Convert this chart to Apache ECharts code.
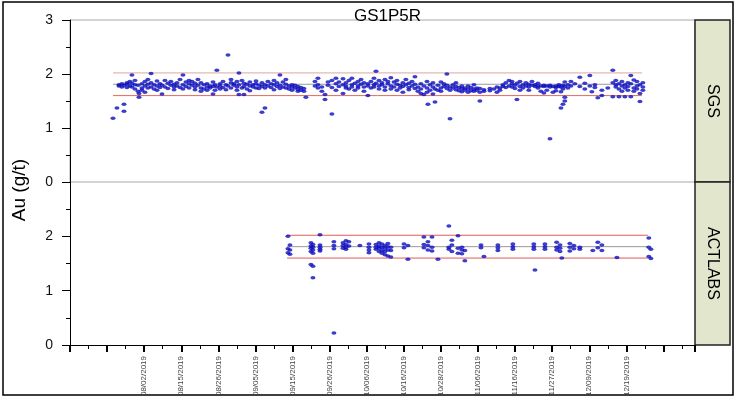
<!DOCTYPE html>
<html>
<head>
<meta charset="utf-8">
<title>GS1P5R</title>
<script src="https://cdn.jsdelivr.net/npm/echarts@6/dist/echarts.min.js"></script>
<style>
  html, body { margin: 0; padding: 0; background: #fff; }
  #chart { width: 738px; height: 399px; }
</style>
</head>
<body>
<div id="chart"></div>
<script>
// x is measured in axis ticks (one per small tick mark), Au in g/t
var dateLabels = ['08/02/2019', '08/15/2019', '08/26/2019', '09/05/2019', '09/15/2019',
  '09/26/2019', '10/06/2019', '10/16/2019', '10/28/2019', '11/06/2019', '11/16/2019',
  '11/27/2019', '12/09/2019', '12/19/2019'];
var firstLabelTick = 4;

// [x, [Au values at that x]]
var sgsCols = [
  [2.32, [1.18]], [2.53, [1.37]], [2.64, [1.78, 1.80]], [2.80, [1.76, 1.82]],
  [2.91, [1.44, 1.31, 1.79]], [3.07, [1.75, 1.81, 1.84]], [3.23, [1.78, 1.86]],
  [3.34, [1.98, 1.83, 1.76]], [3.50, [1.80, 1.72, 1.88]], [3.67, [1.68, 1.79]],
  [3.72, [1.57, 1.64]], [3.88, [1.74, 1.82, 1.70]], [4.04, [1.66, 1.78, 1.86]],
  [4.20, [1.81, 1.74, 1.90]], [4.37, [2.01, 1.76, 1.84]], [4.53, [1.72, 1.80]],
  [4.69, [1.78, 1.87, 1.70]], [4.85, [1.82, 1.75]], [4.96, [1.63, 1.79]],
  [5.12, [1.88, 1.76]], [5.28, [1.83, 1.73]], [5.44, [1.79, 1.86]],
  [5.61, [1.76, 1.81, 1.71]], [5.77, [1.84, 1.78]], [5.93, [1.90, 1.75]],
  [6.09, [1.98, 1.80, 1.72]], [6.25, [1.85, 1.77]], [6.42, [1.82, 1.74, 1.88]],
  [6.58, [1.79, 1.86]], [6.74, [1.83, 1.76, 1.71]], [6.90, [1.90, 1.79]],
  [7.06, [1.74, 1.68, 1.84]], [7.22, [1.80, 1.72]], [7.39, [1.76, 1.70, 1.82]],
  [7.55, [1.74, 1.78]], [7.71, [1.63, 1.77, 1.85]], [7.82, [1.70, 1.80]],
  [7.92, [2.07, 1.76]], [8.09, [1.72, 1.82, 1.78]], [8.25, [1.75, 1.86]],
  [8.41, [1.80, 1.71]], [8.52, [2.35, 1.78]], [8.68, [1.84, 1.74, 1.90]],
  [8.84, [1.79, 1.82]], [9.00, [1.76, 1.86, 1.70]], [9.11, [2.02, 1.62, 1.80]],
  [9.27, [1.88, 1.74]], [9.38, [1.62, 1.83, 1.77]], [9.54, [1.81, 1.72]],
  [9.70, [1.85, 1.78, 1.69]], [9.87, [1.76, 1.80]], [10.03, [1.82, 1.74, 1.87]],
  [10.19, [1.79, 1.73]], [10.35, [1.29, 1.84, 1.77]], [10.51, [1.37, 1.80, 1.74]],
  [10.67, [1.86, 1.78]], [10.84, [1.75, 1.82]], [11.00, [1.80, 1.71, 1.88]],
  [11.16, [1.77, 1.84]], [11.32, [1.98, 1.79, 1.73]], [11.48, [1.85, 1.76]],
  [11.64, [1.81, 1.74, 1.90]], [11.81, [1.78, 1.72]], [11.97, [1.76, 1.80, 1.70]],
  [12.13, [1.74, 1.79]], [12.29, [1.72, 1.77, 1.68]], [12.45, [1.75, 1.70]],
  [12.61, [1.68, 1.73]], [12.72, [1.57]], [13.21, [1.86, 1.78]],
  [13.37, [1.92, 1.80, 1.74]], [13.58, [1.76, 1.68]], [13.75, [1.53, 1.62]],
  [13.91, [1.85, 1.79]], [14.12, [1.26, 1.88, 1.75]], [14.34, [1.82, 1.92, 1.70]],
  [14.50, [1.77, 1.85]], [14.72, [1.64, 1.80, 1.91]], [14.88, [1.84, 1.74, 1.78]],
  [15.04, [1.88, 1.72]], [15.20, [1.80, 1.76, 1.92]], [15.36, [1.83, 1.70]],
  [15.53, [1.78, 1.86, 1.74]], [15.69, [1.81, 1.90]], [15.85, [1.76, 1.84, 1.68]],
  [16.06, [1.60, 1.82, 1.78]], [16.23, [1.86, 1.74]], [16.39, [1.80, 1.92, 1.76]],
  [16.50, [2.05, 1.83]], [16.66, [1.78, 1.72, 1.88]], [16.82, [1.84, 1.80]],
  [16.98, [1.90, 1.76, 1.70]], [17.14, [1.82, 1.86]], [17.30, [1.78, 1.93, 1.72]],
  [17.47, [1.85, 1.76]], [17.63, [1.81, 1.88, 1.70]], [17.79, [1.79, 1.74]],
  [17.95, [1.84, 1.77, 1.66]], [18.11, [1.90, 1.80]], [18.27, [1.75, 1.83, 1.71]],
  [18.44, [1.86, 1.78]], [18.60, [1.73, 1.81, 1.95]], [18.76, [1.76, 1.68]],
  [18.92, [1.82, 1.64, 1.72]], [19.08, [1.78, 1.62]], [19.25, [1.86, 1.66, 1.74]],
  [19.30, [1.44]], [19.41, [1.70, 1.80]], [19.57, [1.76, 1.63, 1.84]],
  [19.68, [1.48, 1.72]], [19.84, [1.79, 1.70]], [20.00, [1.85, 1.74, 1.68]],
  [20.16, [1.77, 1.82]], [20.32, [2.00, 1.73, 1.79]], [20.49, [1.17, 1.76, 1.70]],
  [20.65, [1.80, 1.74]], [20.81, [1.71, 1.77, 1.84]], [20.97, [1.75, 1.69]],
  [21.13, [1.73, 1.78, 1.67]], [21.29, [1.70, 1.74]], [21.46, [1.72, 1.66, 1.78]],
  [21.62, [1.69, 1.75]], [21.78, [1.68, 1.72, 1.80]], [21.94, [1.74, 1.70]],
  [22.10, [1.50, 1.66, 1.73]], [22.32, [1.71, 1.68]], [22.64, [1.69, 1.73]],
  [22.86, [1.72]], [23.02, [1.66, 1.76]], [23.18, [1.74, 1.70]],
  [23.34, [1.80, 1.77]], [23.50, [1.84, 1.75]], [23.67, [1.78, 1.88]],
  [23.83, [1.82, 1.76, 1.86]], [23.99, [1.79, 1.73]], [24.10, [1.53, 1.83]],
  [24.26, [1.86, 1.77, 1.70]], [24.42, [1.80, 1.74]], [24.58, [1.84, 1.78]],
  [24.74, [1.76, 1.81, 1.70]], [24.91, [1.79, 1.86]], [25.07, [1.77, 1.80]],
  [25.23, [1.83, 1.78, 1.74]], [25.39, [1.78, 1.68]], [25.55, [1.77, 1.65, 1.79]],
  [25.71, [1.78, 1.70]], [25.88, [0.80, 1.76, 1.79]], [26.04, [1.77, 1.66]],
  [26.20, [1.78, 1.75, 1.69]], [26.36, [1.80, 1.77]], [26.47, [1.37, 1.67, 1.76]],
  [26.58, [1.44, 1.79, 1.72]], [26.68, [1.50, 1.57, 1.85, 1.77]], [26.85, [1.80, 1.74]],
  [27.01, [1.86, 1.78]], [27.22, [1.82]], [27.49, [1.94, 1.77]],
  [27.76, [1.83, 1.72]], [28.03, [1.97, 1.78]], [28.14, [1.67]],
  [28.30, [1.80, 1.75]], [28.46, [1.56]], [28.68, [1.60, 1.70]],
  [29.00, [1.74]], [29.27, [2.07, 1.58, 1.84]], [29.43, [1.80, 1.76, 1.88]],
  [29.60, [1.82, 1.58, 1.72]], [29.76, [1.86, 1.78, 1.68]], [29.92, [1.58, 1.74, 1.80]],
  [30.08, [1.84, 1.70, 1.77]], [30.24, [1.97, 1.58, 1.82]], [30.40, [1.89, 1.74, 1.68]],
  [30.57, [1.78, 1.86, 1.72]], [30.73, [1.49, 1.80, 1.64]], [30.89, [1.84, 1.76, 1.70]]
];

var actlabsCols = [
  [11.75, [2.00, 1.77, 1.70]], [11.86, [1.84, 1.75, 1.67]],
  [12.99, [1.88, 1.82, 1.78, 1.72, 1.48]], [13.10, [1.85, 1.80, 1.75, 1.69, 1.45, 1.24]],
  [13.48, [2.03, 1.84, 1.80, 1.76, 1.73]], [14.23, [1.90, 1.83, 1.77, 0.22]],
  [14.72, [1.88, 1.83, 1.78]], [14.88, [1.92, 1.85, 1.80, 1.76]], [15.04, [1.90, 1.82]],
  [15.63, [1.83]], [16.12, [1.86, 1.80, 1.75, 1.70]], [16.50, [1.85, 1.80, 1.76]],
  [16.66, [1.88, 1.82, 1.78, 1.72]], [16.82, [1.86, 1.80, 1.74, 1.69]],
  [16.98, [1.83, 1.78, 1.72, 1.66]], [17.14, [1.87, 1.81, 1.75, 1.64]],
  [17.30, [1.80, 1.74, 1.62]], [18.01, [1.86, 1.79]], [18.22, [1.83, 1.58]],
  [19.08, [1.99, 1.85, 1.79]], [19.30, [1.90, 1.83, 1.75]], [19.52, [1.99, 1.80, 1.73]],
  [19.84, [1.58]], [20.43, [2.19, 1.80, 1.76]], [20.59, [1.93, 1.84, 1.72]],
  [20.92, [2.01, 1.78, 1.69]], [21.13, [1.80, 1.75, 1.68]], [21.29, [1.74, 1.55]],
  [22.16, [1.84, 1.79]], [22.32, [1.63]], [23.07, [1.84, 1.79, 1.74]],
  [23.88, [1.86, 1.81, 1.76]], [25.01, [1.86, 1.81, 1.76]], [25.07, [1.38]],
  [25.61, [1.86, 1.81, 1.76]], [26.24, [1.89, 1.80, 1.75]], [26.42, [1.84, 1.78, 1.72]],
  [26.52, [1.60]], [26.95, [1.87, 1.80, 1.73]], [27.17, [1.83, 1.77]],
  [27.49, [1.80, 1.76]], [28.19, [1.74]], [28.46, [1.89, 1.79]], [28.68, [1.84, 1.74]],
  [29.49, [1.61]], [31.21, [1.97, 1.80, 1.63]], [31.32, [1.76, 1.59]]
];

// control limits: lower, mean, upper
var sgsLimits = [1.60, 1.81, 2.02];
var actlabsLimits = [1.60, 1.81, 2.02];
var sgsSpan = [2.32, 30.84];
var actlabsSpan = [11.70, 31.16];

var plotLeft = 70, plotRight = 695, topY = 20, midY = 182, bottomY = 345;
var xMax = 33.7;

function toPoints(cols) {
  var pts = [];
  for (var i = 0; i < cols.length; i++) {
    for (var j = 0; j < cols[i][1].length; j++) {
      pts.push([cols[i][0], cols[i][1][j]]);
    }
  }
  return pts;
}

function limitLine(gridIdx, span, value, color) {
  return {
    type: 'line',
    xAxisIndex: gridIdx,
    yAxisIndex: gridIdx,
    data: [[span[0], value], [span[1], value]],
    symbol: 'none',
    silent: true,
    z: 1,
    lineStyle: { color: color, width: 1 }
  };
}

function yAxisFor(gridIdx, hideTop) {
  return {
    gridIndex: gridIdx,
    type: 'value',
    min: 0,
    max: 3,
    interval: 1,
    axisLine: { show: true, onZero: false, lineStyle: { color: '#000', width: 1 } },
    axisTick: { show: true, length: 8, lineStyle: { color: '#000', width: 1 } },
    minorTick: { show: true, splitNumber: 2, length: 4, lineStyle: { color: '#000', width: 1 } },
    splitLine: { show: false },
    axisLabel: {
      margin: 17,
      fontSize: 14,
      fontFamily: 'Liberation Sans',
      color: '#111',
      formatter: function(v) { return (hideTop && v === 3) ? '' : String(v); }
    }
  };
}

var chart = echarts.init(document.getElementById('chart'));

var option = {
  animation: false,
  backgroundColor: '#fff',
  title: {
    text: 'GS1P5R',
    left: (plotLeft + plotRight) / 2,
    top: 3,
    textAlign: 'center',
    textStyle: { fontSize: 17, fontWeight: 'normal', color: '#000', fontFamily: 'Liberation Sans' }
  },
  grid: [
    { left: plotLeft, top: topY, width: plotRight - plotLeft, height: midY - topY,
      outerBoundsMode: 'none', containLabel: false,
      show: true, borderColor: '#a8a8a8', borderWidth: 1 },
    { left: plotLeft, top: midY, width: plotRight - plotLeft, height: bottomY - midY,
      outerBoundsMode: 'none', containLabel: false }
  ],
  xAxis: [
    { gridIndex: 0, type: 'value', min: 0, max: xMax, interval: 2, show: false },
    {
      gridIndex: 1, type: 'value', min: 0, max: xMax, interval: 2,
      axisLine: { show: true, onZero: false, lineStyle: { color: '#000', width: 1 } },
      axisTick: { show: true, length: 7, lineStyle: { color: '#000', width: 2 } },
      minorTick: { show: true, splitNumber: 2, length: 4, lineStyle: { color: '#000', width: 1 } },
      splitLine: { show: false },
      axisLabel: {
        rotate: 90,
        margin: 11,
        fontSize: 8,
        fontFamily: 'Liberation Sans',
        color: '#444',
        formatter: function(v) {
          var k = (v - firstLabelTick) / 2;
          if (k >= 0 && k === Math.round(k) && k < dateLabels.length) return dateLabels[k];
          return '';
        }
      }
    }
  ],
  yAxis: [yAxisFor(0, false), yAxisFor(1, true)],
  series: [
    limitLine(0, sgsSpan, sgsLimits[0], '#e06a5a'),
    limitLine(0, sgsSpan, sgsLimits[1], '#9a9a9a'),
    limitLine(0, sgsSpan, sgsLimits[2], '#dca8a0'),
    limitLine(1, actlabsSpan, actlabsLimits[0], '#e05a5a'),
    limitLine(1, actlabsSpan, actlabsLimits[1], '#9a9a9a'),
    limitLine(1, actlabsSpan, actlabsLimits[2], '#e05a5a'),
    {
      name: 'SGS', type: 'scatter', xAxisIndex: 0, yAxisIndex: 0,
      data: toPoints(sgsCols), symbol: 'circle', symbolSize: [5, 3.5], z: 3,
      itemStyle: { color: '#0c0cbe' }
    },
    {
      name: 'ACTLABS', type: 'scatter', xAxisIndex: 1, yAxisIndex: 1,
      data: toPoints(actlabsCols), symbol: 'circle', symbolSize: [5, 3.5], z: 3,
      itemStyle: { color: '#0c0cbe' }
    }
  ],
  graphic: [
    { type: 'rect', shape: { x: 3, y: 2, width: 730, height: 393 }, silent: true,
      style: { fill: 'none', stroke: '#000', lineWidth: 1.5 } },
    { type: 'rect', shape: { x: plotRight, y: topY, width: 35, height: midY - topY }, silent: true,
      style: { fill: '#e1e6cd', stroke: '#222', lineWidth: 1.5 } },
    { type: 'rect', shape: { x: plotRight, y: midY, width: 35, height: bottomY - midY }, silent: true,
      style: { fill: '#e1e6cd', stroke: '#222', lineWidth: 1.5 } },
    { type: 'text', x: plotRight + 17.5, y: (topY + midY) / 2, rotation: -Math.PI / 2, silent: true,
      style: { text: 'SGS', font: '16px "Liberation Sans"', fill: '#000', align: 'center', verticalAlign: 'middle' } },
    { type: 'text', x: plotRight + 17.5, y: (midY + bottomY) / 2, rotation: -Math.PI / 2, silent: true,
      style: { text: 'ACTLABS', font: '16px "Liberation Sans"', fill: '#000', align: 'center', verticalAlign: 'middle' } },
    { type: 'text', x: 20, y: 190, rotation: Math.PI / 2, silent: true,
      style: { text: 'Au (g/t)', font: '19px "Liberation Sans"', fill: '#000', align: 'center', verticalAlign: 'middle' } }
  ]
};

chart.setOption(option);
</script>
</body>
</html>
